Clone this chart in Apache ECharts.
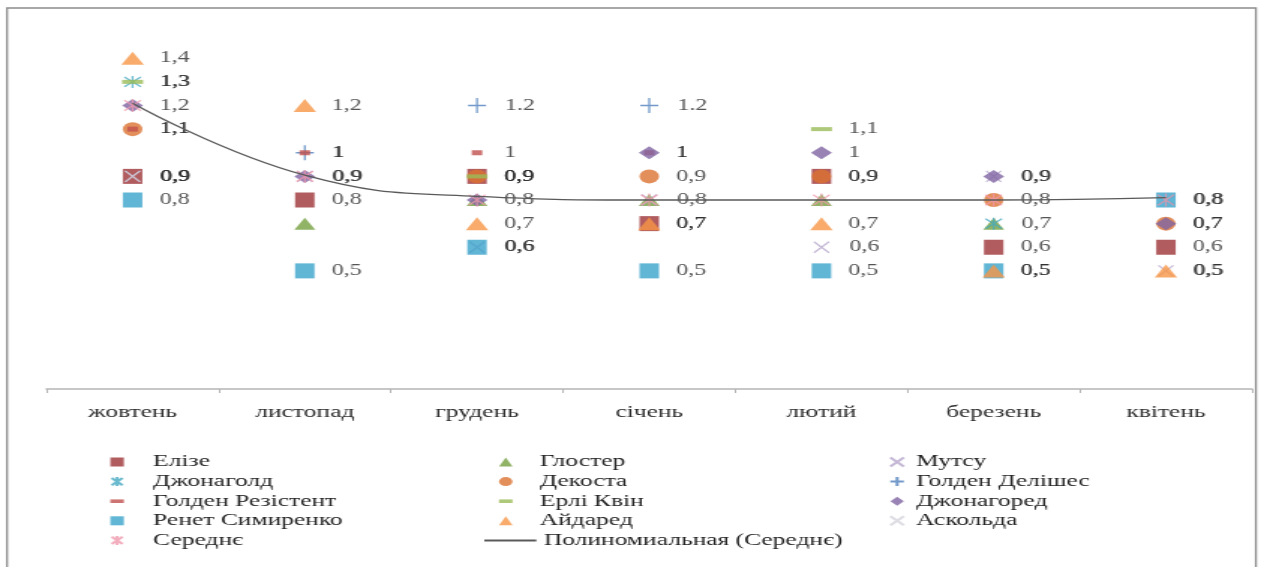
<!DOCTYPE html>
<html><head><meta charset="utf-8">
<script src="https://cdn.jsdelivr.net/npm/echarts@6/dist/echarts.min.js"></script>
<style>
html,body{margin:0;padding:0;background:#fff;overflow:hidden;}
#main{width:841px;height:567px;transform:scaleX(1.4994);transform-origin:0 0;}
</style>
</head><body><div id="main"></div>
<script>
// ---- data ----
const months = ['жовтень','листопад','грудень','січень','лютий','березень','квітень'];
const elize        = [0.9, 0.8, 0.9, 0.7, 0.9, 0.6, 0.6];   // Елізе
const gloster      = [null, 0.7, 0.8, 0.8, 0.8, 0.7, null]; // Глостер
const mutsu        = [0.9, 0.9, 0.6, 0.8, 0.6, 0.9, 0.5];   // Мутсу
const jonagold     = [1.3, null, null, null, null, 0.7, 0.8]; // Джонаголд
const dekosta      = [1.1, null, 0.9, 0.9, 0.9, 0.8, 0.7];  // Декоста
const goldenDel    = [null, 1.0, 1.2, 1.2, null, null, null]; // Голден Делішес
const goldenRes    = [1.1, 1.0, 1.0, 1.0, null, null, null]; // Голден Резістент
const earlyQueen   = [1.3, null, 0.9, null, 1.1, null, null]; // Ерлі Квін
const jonagored    = [1.2, 0.9, 0.8, 1.0, 1.0, 0.9, 0.7];   // Джонагоред
const renet        = [0.8, 0.5, 0.6, 0.5, 0.5, 0.5, 0.8];   // Ренет Симиренко
const aidared      = [1.4, 1.2, 0.7, 0.7, 0.7, 0.5, 0.5];   // Айдаред
const askolda      = [0.9, null, null, null, null, null, null]; // Аскольда
const average      = [1.2, 0.9, 0.8, 0.8, 0.8, 0.8, 0.8];   // Середнє
const trend        = [1.21, 0.905, 0.815, 0.8, 0.8, 0.8, 0.81]; // Полиномиальная (Середнє)

// ---- styling ----
const FONT = 'Liberation Serif';
const SYM = {
  x: 'path://M0,0L10,10M10,0L0,10',
  plus: 'path://M0,5L10,5M5,0L5,10',
  star: 'path://M1,1L9,9M9,1L1,9M5,0L5,10',
  dash: 'path://M0,0L10,0L10,4L0,4Z'
};
const comma = p => String(p.value).replace('.', ',');
const dot = p => String(p.value);
const LABEL_OFFSET = 18; // from marker centre to label start

function sc(name, vals, symbol, size, color, o) {
  o = o || {};
  const stroke = o.stroke || 0;
  return {
    name: name, type: 'scatter',
    data: vals.map(v => v == null ? '-' : v),
    symbol: symbol, symbolSize: size,
    itemStyle: stroke ? {color: color, borderColor: color, borderWidth: stroke} : {color: color},
    label: {
      show: o.label !== false, position: 'right', distance: LABEL_OFFSET - size[0] / 2,
      formatter: o.fmt || comma,
      fontFamily: FONT, fontSize: 16, color: '#2b2b2b'
    },
    emphasis: {disabled: true},
    z: 2
  };
}

const series = [
  sc('Елізе', elize, 'rect', [13, 15], '#9E3438'),
  sc('Глостер', gloster, 'triangle', [14, 12], '#74A03E', {label: false}),
  sc('Мутсу', mutsu, SYM.x, [10, 11], '#B7A6CC', {stroke: 1.3}),
  sc('Джонаголд', jonagold, SYM.star, [11, 12], '#45A9C2', {stroke: 1.3}),
  sc('Декоста', dekosta, 'circle', [13, 14], '#DC7332'),
  sc('Голден Делішес', goldenDel, SYM.plus, [12, 15], '#4F7FBD', {stroke: 1.4, fmt: dot}),
  sc('Голден Резістент', goldenRes, SYM.dash, [7, 5], '#C0504D'),
  sc('Ерлі Квін', earlyQueen, SYM.dash, [14, 4], '#9BBB59'),
  sc('Джонагоред', jonagored, 'diamond', [14, 13], '#8064A2'),
  sc('Ренет Симиренко', renet, 'rect', [13, 15], '#3AA3CB'),
  sc('Айдаред', aidared, 'triangle', [15, 13], '#F79646'),
  sc('Аскольда', askolda, SYM.x, [10, 11], '#D5D5DC', {stroke: 1.3}),
  sc('Середнє', average, SYM.star, [11, 13], '#F09AAE', {stroke: 1.3, label: false}),
  {
    name: 'Полиномиальная (Середнє)', type: 'line', data: trend,
    symbol: 'none', smooth: 0.45,
    lineStyle: {color: '#5a5a5a', width: 1.3},
    itemStyle: {color: '#5a5a5a'},
    emphasis: {disabled: true},
    z: 5
  }
];

const legBase = {
  orient: 'vertical', padding: 0, itemWidth: 9, itemHeight: 9, itemGap: 1.6,
  selectedMode: false,
  textStyle: {fontFamily: FONT, fontSize: 17, color: '#222', lineHeight: 18}
};
function leg(left, top, pad, names, extra) {
  return Object.assign({}, legBase, {
    left: left, top: top, data: names,
    textStyle: Object.assign({}, legBase.textStyle, {padding: [0, 0, 0, pad]})
  }, extra || {});
}

const option = {
  animation: false,
  backgroundColor: '#ffffff',
  grid: {left: 31, right: 6, top: 11, bottom: 178, containLabel: false, outerBoundsMode: 'none'},
  xAxis: {
    type: 'category', data: months, boundaryGap: true,
    axisLine: {show: true, lineStyle: {color: '#b5b5b5', width: 1.5}},
    axisTick: {show: true, length: 4, lineStyle: {color: '#b5b5b5'}},
    axisLabel: {fontFamily: FONT, fontSize: 17, color: '#2b2b2b', margin: 15},
    splitLine: {show: false}
  },
  yAxis: {
    type: 'value', min: 0, max: 1.6, interval: 0.2, show: false,
    splitLine: {show: false}
  },
  legend: [
    leg(73.5, 453, 14.5, ['Елізе', 'Джонаголд', 'Голден Резістент', 'Ренет Симиренко', 'Середнє']),
    leg(332.8, 453, 13.2, ['Глостер', 'Декоста', 'Ерлі Квін', 'Айдаред']),
    leg(592.8, 453, 3.2, ['Мутсу', 'Голден Делішес', 'Джонагоред', 'Аскольда']),
    leg(322, 531.5, 0, [{name: 'Полиномиальная (Середнє)', itemStyle: {color: 'rgba(0,0,0,0)', borderWidth: 0, opacity: 0}}], {itemWidth: 34.7})
  ],
  graphic: [{
    type: 'rect', silent: true, z: 100,
    shape: {x: 4.7, y: 8, width: 832.9, height: 600},
    style: {fill: 'none', stroke: '#8c8c8c', lineWidth: 1.3}
  }],
  series: series
};

const chart = echarts.init(document.getElementById('main'), null, {renderer: 'canvas'});
chart.setOption(option);
</script></body></html>
